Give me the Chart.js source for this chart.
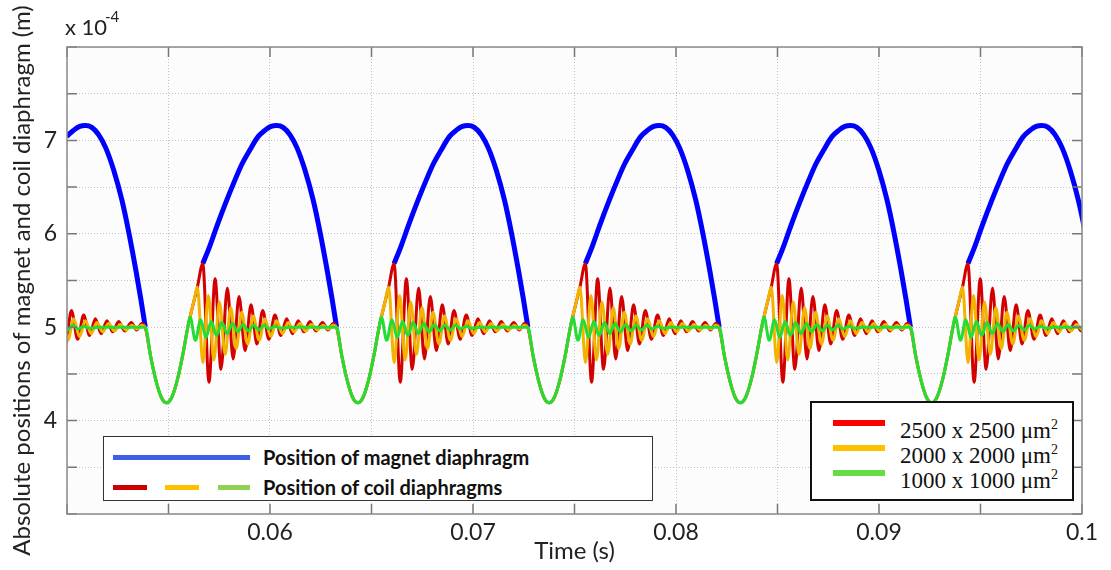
<!DOCTYPE html>
<html>
<head>
<meta charset="utf-8">
<script src="https://cdn.jsdelivr.net/npm/chart.js@4.4.1/dist/chart.umd.min.js"></script>
<style>
  html, body { margin: 0; padding: 0; background: #fff; }
  #wrap { position: relative; width: 1111px; height: 570px; overflow: hidden; }
  #chart { position: absolute; left: 0; top: 0; }
  .txt { position: absolute; white-space: nowrap; color: #222; font-family: Lato, sans-serif; }
  .box { position: absolute; background: #fff; box-sizing: border-box; }
  .ln { position: absolute; }
</style>
</head>
<body>
<div id="wrap">
  <canvas id="chart" width="1111" height="570"></canvas>

  <div class="txt" style="left:65px; top:12px; font-size:22px; line-height:30px;">x 10</div>
  <div class="txt" style="left:105px; top:6px; font-size:15px; line-height:20px;">-4</div>

  <!-- legend: magnet / coil -->
  <div class="box" style="left:103px; top:436px; width:550px; height:65px; border:1.5px solid #333;"></div>
  <div class="ln" style="left:113px; top:455px; width:137px; height:5px; background:#3f5fe6;"></div>
  <div class="ln" style="left:113px; top:485px; width:34px; height:5px; background:#cc0000;"></div>
  <div class="ln" style="left:165px; top:485px; width:34px; height:5px; background:#ffc000;"></div>
  <div class="ln" style="left:218px; top:485px; width:32px; height:5px; background:#92d050;"></div>
  <div class="txt" style="left:263px; top:443px; font-size:20px; line-height:28px; font-weight:bold; color:#111;">Position of magnet diaphragm</div>
  <div class="txt" style="left:263px; top:473px; font-size:20px; line-height:28px; font-weight:bold; color:#111;">Position of coil diaphragms</div>

  <!-- legend: coil sizes -->
  <div class="box" style="left:810px; top:401px; width:264px; height:100px; border:2px solid #111;"></div>
  <div class="ln" style="left:833px; top:420px; width:52px; height:6px; background:#ff0000;"></div>
  <div class="ln" style="left:833px; top:445px; width:52px; height:6px; background:#ffc000;"></div>
  <div class="ln" style="left:833px; top:470px; width:52px; height:6px; background:#66dd44;"></div>
  <div class="txt" style="left:900px; top:410px; font-family:'Liberation Serif', serif; font-size:23px; line-height:30px; color:#111;">2500 x 2500 μm<sup style="font-size:14px;">2</sup></div>
  <div class="txt" style="left:900px; top:435px; font-family:'Liberation Serif', serif; font-size:23px; line-height:30px; color:#111;">2000 x 2000 μm<sup style="font-size:14px;">2</sup></div>
  <div class="txt" style="left:900px; top:460px; font-family:'Liberation Serif', serif; font-size:23px; line-height:30px; color:#111;">1000 x 1000 μm<sup style="font-size:14px;">2</sup></div>
</div>

<script>
// instants (s) where the magnet lands on the coil diaphragm at 5 x 10^-4 m
const cycleStarts = [0.044433, 0.053856, 0.063279, 0.072702, 0.082125, 0.091548];

// times below are ms after the landing instant, positions in 10^-4 m

// common contact phase (magnet + coil moving together)
const contactTimes = [0, 0.261, 0.524, 0.787, 1.048, 1.308, 1.574, 1.834, 2.095];
const contactPos = [5.00, 4.69, 4.43, 4.25, 4.19, 4.25, 4.43, 4.69, 5.00];

// magnet free flight
const magnetTimes = [2.833, 3.197, 3.541, 4.013, 4.426, 4.770, 5.159, 5.557, 5.902, 6.197, 6.467, 6.787, 7.131, 7.475, 7.869, 8.272, 8.607, 8.951, 9.197, 9.423];
const magnetPos = [5.68, 5.88, 6.09, 6.36, 6.58, 6.75, 6.90, 7.04, 7.11, 7.15, 7.16, 7.14, 7.06, 6.92, 6.68, 6.36, 6.02, 5.62, 5.31, 5.00];

// coil 2500 x 2500
const redTimes = [2.208, 2.385, 2.567, 2.833, 3.138, 3.438, 3.728, 4.043, 4.328, 4.618, 4.918, 5.208, 5.498, 5.784, 6.089, 6.388, 6.679, 6.964, 7.254, 7.534, 7.820, 8.110, 8.410, 8.734, 9.000, 9.256];
const redPos = [5.11, 5.27, 5.43, 5.68, 4.41, 5.52, 4.55, 5.42, 4.66, 5.33, 4.75, 5.24, 4.82, 5.18, 4.87, 5.13, 4.91, 5.09, 4.93, 5.07, 4.95, 5.06, 4.96, 5.05, 4.97, 5.04];

// coil 2000 x 2000
const orangeTimes = [2.208, 2.385, 2.567, 2.838, 3.108, 3.379, 3.649, 3.934, 4.210, 4.475, 4.751, 5.041, 5.321, 5.607, 5.897, 6.182, 6.472, 6.757, 7.043, 7.328, 7.618, 7.903, 8.193, 8.478, 8.764, 9.010, 9.256];
const orangePos = [5.11, 5.27, 5.43, 4.62, 5.34, 4.65, 5.27, 4.71, 5.21, 4.77, 5.16, 4.82, 5.12, 4.86, 5.09, 4.90, 5.07, 4.93, 5.05, 4.95, 5.04, 4.96, 5.03, 4.97, 5.02, 4.98, 5.02];

// coil 1000 x 1000
const greenTimes = [2.208, 2.469, 2.729, 2.990, 3.251, 3.511, 3.772, 4.033, 4.293, 4.554, 4.815, 5.075, 5.336, 5.597, 5.857, 6.118, 6.379, 6.639, 7.131, 9.256];
const greenPos = [5.11, 4.86, 5.08, 4.89, 5.06, 4.91, 5.05, 4.93, 5.04, 4.95, 5.03, 4.96, 5.02, 4.97, 5.02, 4.98, 5.01, 4.99, 5.00, 5.00];

const xTickLabels = ['0.06', '0.07', '0.08', '0.09', '0.1'];
const yTickLabels = ['4', '5', '6', '7'];

function coilSeries(times, pos) {
  const pts = [];
  cycleStarts.forEach(t0 => {
    contactTimes.forEach((dt, i) => pts.push({ x: t0 + dt / 1000, y: contactPos[i] }));
    times.forEach((dt, i) => pts.push({ x: t0 + dt / 1000, y: pos[i] }));
  });
  return pts;
}

function magnetSeries() {
  const pts = [];
  cycleStarts.forEach(t0 => {
    magnetTimes.forEach((dt, i) => pts.push({ x: t0 + dt / 1000, y: magnetPos[i] }));
    pts.push({ x: t0 + 9.43 / 1000, y: null });
  });
  return pts;
}

const frame = {
  id: 'frame',
  beforeDraw(chart) {
    const { ctx, chartArea: a } = chart;
    ctx.save();
    ctx.fillStyle = '#fcfcfc';
    ctx.fillRect(a.left, a.top, a.width, a.height);
    ctx.restore();
  },
  afterDatasetsDraw(chart) {
    const { ctx, chartArea: a, scales } = chart;
    ctx.save();
    ctx.strokeStyle = '#777';
    ctx.lineWidth = 1.5;
    ctx.beginPath();
    scales.x.ticks.forEach(t => {
      const px = scales.x.getPixelForValue(t.value);
      ctx.moveTo(px, a.bottom); ctx.lineTo(px, a.bottom - 10);
      ctx.moveTo(px, a.top); ctx.lineTo(px, a.top + 10);
    });
    scales.y.ticks.forEach(t => {
      const py = scales.y.getPixelForValue(t.value);
      ctx.moveTo(a.left, py); ctx.lineTo(a.left + 10, py);
      ctx.moveTo(a.right, py); ctx.lineTo(a.right - 10, py);
    });
    ctx.stroke();
    ctx.strokeStyle = '#8a8a8a';
    ctx.strokeRect(a.left, a.top, a.width, a.height);
    ctx.restore();
  }
};

const common = { pointRadius: 0, fill: false, cubicInterpolationMode: 'monotone', spanGaps: false };

new Chart(document.getElementById('chart'), {
  type: 'line',
  data: {
    datasets: [
      { ...common, label: '1000 x 1000', data: coilSeries(greenTimes, greenPos), borderColor: '#22dd33', borderWidth: 3, order: 0 },
      { ...common, label: '2000 x 2000', data: coilSeries(orangeTimes, orangePos), borderColor: '#f2b400', borderWidth: 3, order: 1 },
      { ...common, label: '2500 x 2500', data: coilSeries(redTimes, redPos), borderColor: '#d20000', borderWidth: 3, order: 2 },
      { ...common, label: 'Magnet', data: magnetSeries(), borderColor: '#0000ff', borderWidth: 5, order: 3 }
    ]
  },
  options: {
    responsive: false,
    animation: false,
    layout: { padding: { top: 47, right: 29, left: 0, bottom: 0 } },
    plugins: { legend: { display: false }, tooltip: { enabled: false } },
    scales: {
      x: {
        type: 'linear', min: 0.05, max: 0.1,
        afterFit: s => { s.height = 56; },
        ticks: {
          stepSize: 0.005, autoSkip: false, maxRotation: 0, padding: 5,
          font: { family: 'Lato', size: 23 }, color: '#222',
          callback: v => xTickLabels.find(l => Math.abs(parseFloat(l) - v) < 1e-6) || ''
        },
        grid: { color: '#c2c2c2', lineWidth: 1, drawTicks: false },
        border: { display: false, dash: [1, 2] },
        title: { display: true, text: 'Time (s)', font: { family: 'Lato', size: 24 }, color: '#222', padding: { top: 0, bottom: 4 } }
      },
      y: {
        min: 3, max: 8,
        afterFit: s => { s.width = 67; },
        ticks: {
          stepSize: 0.5, autoSkip: false, padding: 10,
          font: { family: 'Lato', size: 23 }, color: '#222',
          callback: v => yTickLabels.find(l => Math.abs(parseFloat(l) - v) < 1e-6) || ''
        },
        grid: { color: '#c2c2c2', lineWidth: 1, drawTicks: false },
        border: { display: false, dash: [1, 2] },
        title: { display: true, text: 'Absolute positions of magnet and coil diaphragm (m)', font: { family: 'Lato', size: 24 }, color: '#222', padding: { top: 8, bottom: 0 } }
      }
    }
  },
  plugins: [frame]
});
</script>
</body>
</html>
